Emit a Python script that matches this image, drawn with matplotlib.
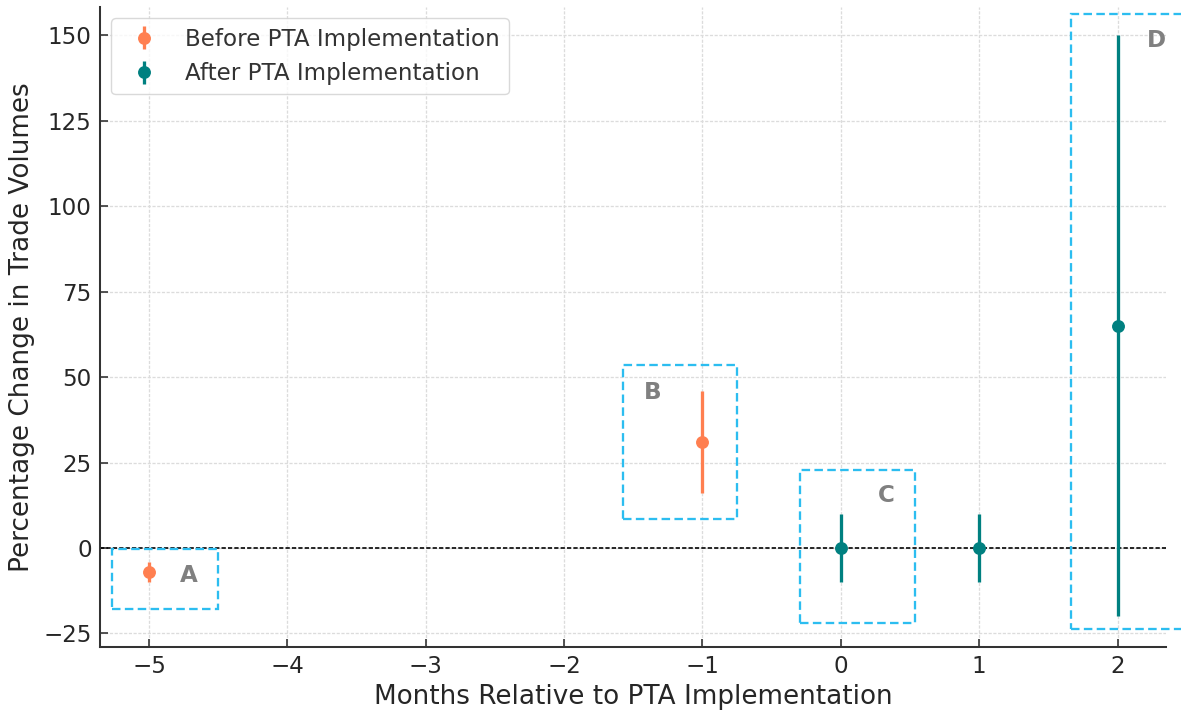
import matplotlib
matplotlib.use("Agg")
import matplotlib.pyplot as plt
from matplotlib.patches import Rectangle

# ---- data ----
months_before = [-5, -1]
change_before = [-7, 31]
err_before = [3, 15]

months_after = [0, 1, 2]
change_after = [0, 0, 65]
err_after = [10, 10, 85]

labels_before = "Before PTA Implementation"
labels_after = "After PTA Implementation"
xlabel = "Months Relative to PTA Implementation"
ylabel = "Percentage Change in Trade Volumes"

# annotation boxes (x0, y0, x1, y1) in data units and letter positions
box_names = ["A", "B", "C", "D"]
box_extents = [(-5.265, -17.8, -4.499, -0.4),
               (-1.577, 8.4, -0.748, 53.4),
               (-0.296, -21.9, 0.533, 22.9),
               (1.662, -23.6, 2.50, 156.2)]
letter_pos = [(-4.716, -8.0), (-1.361, 45.6), (0.33, 15.3), (2.278, 148.5)]

S = 1.181
plt.rcParams['font.family'] = ['DejaVu Sans']

fig = plt.figure(figsize=(11.81, 7.11), dpi=100)
ax = fig.add_axes([100/1181, 1-647/711, 1066/1181, 640/711])

ax.errorbar(months_before, change_before, yerr=err_before, fmt='o', color='#FF7F50',
            ecolor='#FF7F50', elinewidth=2*S, markersize=7*S, capsize=0,
            label=labels_before, zorder=3)
ax.errorbar(months_after, change_after, yerr=err_after, fmt='o', color='#008080',
            ecolor='#008080', elinewidth=2*S, markersize=7*S, capsize=0,
            label=labels_after, zorder=3)

ax.axhline(0, color='black', linestyle=(0, (2.6, 1.3)), linewidth=1*S, zorder=2)

for name, (x0, y0, x1, y1), (tx, ty) in zip(box_names, box_extents, letter_pos):
    ax.add_patch(Rectangle((x0, y0), x1 - x0, y1 - y0, fill=False,
                           edgecolor='#2cbdf0', linestyle=(0, (3.7, 1.9)),
                           linewidth=1.4*S, clip_on=False, zorder=4))
    ax.text(tx, ty, name, fontsize=14*S, fontweight='bold', color='gray',
            ha='center', va='center', zorder=5)

ax.set_xlim(-5.354, 2.35)
ax.set_ylim(-28.95, 158.2)
ax.set_yticks([-25, 0, 25, 50, 75, 100, 125, 150])

ax.grid(True, color='#dcdcdc', linestyle=(0, (2.4, 1.2)), linewidth=0.8*S, zorder=0)
ax.set_axisbelow(True)

for side in ['top', 'right']:
    ax.spines[side].set_visible(False)
for side in ['left', 'bottom']:
    ax.spines[side].set_color('#333333')
    ax.spines[side].set_linewidth(1.25*S)

ax.tick_params(direction='in', length=5*S, width=1*S, colors='#333333',
               labelsize=14*S, labelcolor='#262626', pad=6)

ax.set_xlabel(xlabel, fontsize=16*S, color='#262626', labelpad=4)
ax.set_ylabel(ylabel, fontsize=16*S, color='#262626', labelpad=6)

leg = ax.legend(loc='upper left', fontsize=14*S, frameon=True, fancybox=True,
                framealpha=0.8, edgecolor='#d0d0d0')
for t in leg.get_texts():
    t.set_color('#333333')

fig.savefig("out.png", dpi=100)
